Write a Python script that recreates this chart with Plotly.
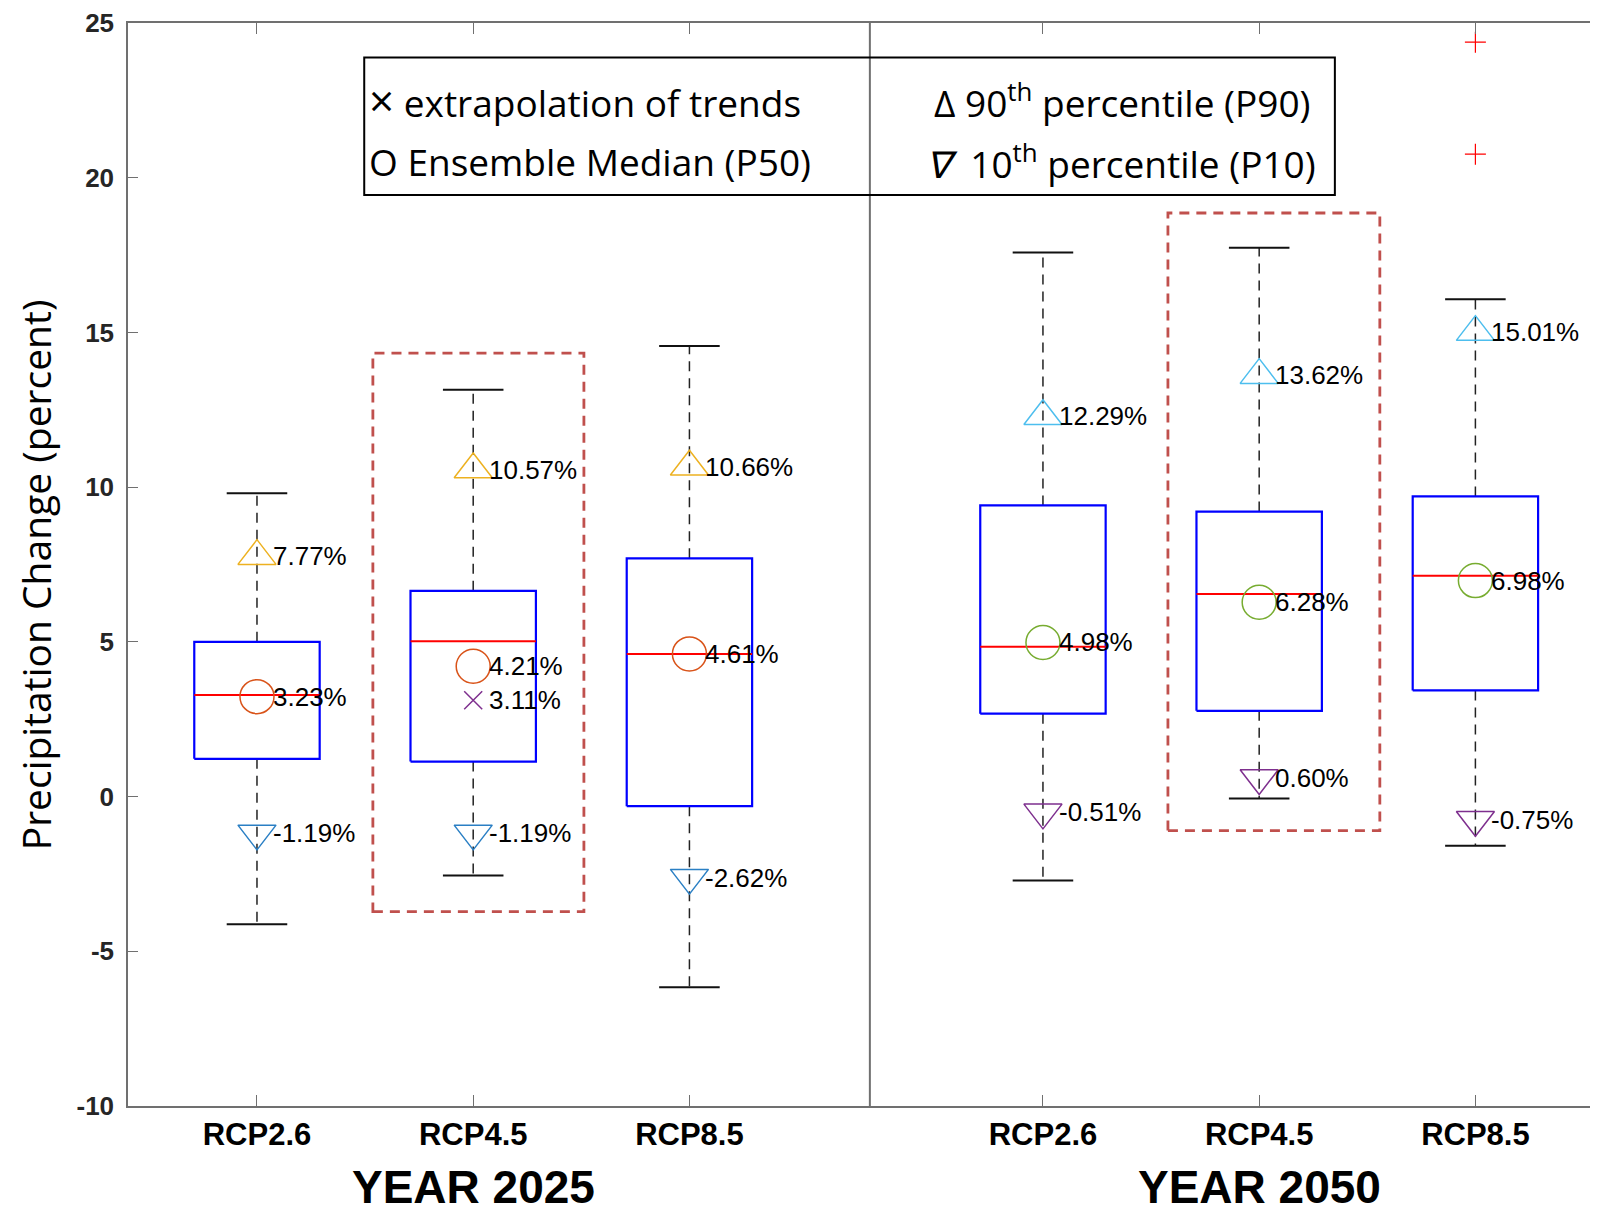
import plotly.graph_objects as go

# ---------------- data ----------------
scenarios = ["RCP2.6", "RCP4.5", "RCP8.5"]
years = ["YEAR 2025", "YEAR 2050"]

upper_whisker = [9.80, 13.15, 14.56, 17.58, 17.74, 16.07]
q3 = [5.00, 6.65, 7.70, 9.41, 9.21, 9.70]
box_median = [3.28, 5.02, 4.61, 4.84, 6.55, 7.14]
q1 = [1.22, 1.13, -0.31, 2.68, 2.77, 3.43]
lower_whisker = [-4.13, -2.55, -6.16, -2.71, -0.06, -1.59]

p90 = [7.77, 10.57, 10.66, 12.29, 13.62, 15.01]
p50 = [3.23, 4.21, 4.61, 4.98, 6.28, 6.98]
p10 = [-1.19, -1.19, -2.62, -0.51, 0.60, -0.75]
trend = [None, 3.11, None, None, None, None]

outlier_box = [5, 5]
outlier_val = [24.38, 20.76]

y_ticks = [-10, -5, 0, 5, 10, 15, 20, 25]
y_ticktext = ["-10", "-5", "0", "5", "10", "15", "20", "25"]

# ---------------- layout helpers ----------------
GROUP_GAP = 0.635
pos = [g * (3 + GROUP_GAP) + i + 1 for g in range(len(years)) for i in range(len(scenarios))]
HW = 0.29   # box half width
CW = 0.14   # cap half width

fig = go.Figure()

# whiskers (dashed)
wx, wy = [], []
for p, a, b, c, d in zip(pos, upper_whisker, q3, q1, lower_whisker):
    wx += [p, p, None, p, p, None]
    wy += [b, a, None, c, d, None]
fig.add_trace(go.Scatter(x=wx, y=wy, mode="lines", hoverinfo="skip",
                         line=dict(color="#222222", width=1.5, dash="10px,7px")))
# caps
cx, cy = [], []
for p, a, d in zip(pos, upper_whisker, lower_whisker):
    cx += [p - CW, p + CW, None, p - CW, p + CW, None]
    cy += [a, a, None, d, d, None]
fig.add_trace(go.Scatter(x=cx, y=cy, mode="lines", hoverinfo="skip",
                         line=dict(color="#111111", width=2)))
# boxes
bx, by = [], []
for p, lo, hi in zip(pos, q1, q3):
    bx += [p - HW, p + HW, p + HW, p - HW, p - HW, None]
    by += [lo, lo, hi, hi, lo, None]
fig.add_trace(go.Scatter(x=bx, y=by, mode="lines", hoverinfo="skip",
                         line=dict(color="#0000FF", width=2.2)))
# medians
mx, my = [], []
for p, m in zip(pos, box_median):
    mx += [p - HW, p + HW, None]
    my += [m, m, None]
fig.add_trace(go.Scatter(x=mx, y=my, mode="lines", hoverinfo="skip",
                         line=dict(color="#FF0000", width=2)))

# outliers
fig.add_trace(go.Scatter(x=[pos[i] for i in outlier_box], y=outlier_val, mode="markers",
                         marker=dict(symbol="cross-thin-open", size=15, color="#FF0000",
                                     line=dict(width=1.2, color="#FF0000"))))

c90 = ["#EDB120"] * 3 + ["#4DBEEE"] * 3
c50 = ["#D95319"] * 3 + ["#77AC30"] * 3
c10 = ["#2A7FC4"] * 3 + ["#7E2F8E"] * 3

fig.add_trace(go.Scatter(x=pos, y=p90, mode="markers",
                         marker=dict(symbol="triangle-up-open", size=33, color=c90,
                                     line=dict(width=1.5))))
fig.add_trace(go.Scatter(x=pos, y=p50, mode="markers",
                         marker=dict(symbol="circle-open", size=34, color=c50,
                                     line=dict(width=1.5))))
fig.add_trace(go.Scatter(x=pos, y=p10, mode="markers",
                         marker=dict(symbol="triangle-down-open", size=33, color=c10,
                                     line=dict(width=1.5))))
tx = [p for p, t in zip(pos, trend) if t is not None]
ty = [t for t in trend if t is not None]
fig.add_trace(go.Scatter(x=tx, y=ty, mode="markers",
                         marker=dict(symbol="x-thin-open", size=18, color="#7E2F8E",
                                     line=dict(width=1.5, color="#7E2F8E"))))

annotations = []
label_font = dict(family="Liberation Sans, Arial, sans-serif", size=26, color="#000000")
for series in (p90, p50, p10, trend):
    for p, v in zip(pos, series):
        if v is None:
            continue
        annotations.append(dict(x=p, y=v, xref="x", yref="y", text=f"{v:.2f}%",
                                showarrow=False, xanchor="left", yanchor="middle",
                                xshift=14, font=label_font))

# year labels
for g, name in enumerate(years):
    annotations.append(dict(x=pos[g * 3 + 1], y=0, xref="x", yref="paper", text=f"<b>{name}</b>",
                            showarrow=False, xanchor="center", yanchor="middle", yshift=-81,
                            font=dict(family="Liberation Sans, Arial, sans-serif",
                                      size=46, color="#000000")))
# y-axis title
annotations.append(dict(x=0, y=0.49, xref="paper", yref="paper",
                        text="Precipitation Change (percent)", textangle=-90,
                        showarrow=False, xanchor="center", yanchor="middle", xshift=-93,
                        font=dict(family="Open Sans, sans-serif", size=39, color="#000000")))

# legend box texts
leg_font = dict(family="Open Sans, sans-serif", size=37, color="#000000")
annotations += [
    dict(x=0.1626, y=0.9286, xref="paper", yref="paper",
         text="<span style='font-size:44px'>×</span> extrapolation of trends",
         showarrow=False, xanchor="left", yanchor="middle", font=leg_font),
    dict(x=0.1626, y=0.8724, xref="paper", yref="paper", text="O Ensemble Median (P50)",
         showarrow=False, xanchor="left", yanchor="middle", font=leg_font),
    dict(x=0.8057, y=0.9286, xref="paper", yref="paper", text="Δ 90<sup>th</sup> percentile (P90)",
         showarrow=False, xanchor="right", yanchor="middle", font=leg_font),
    dict(x=0.8092, y=0.8724, xref="paper", yref="paper", text="<i>∇</i>  10<sup>th</sup> percentile (P10)",
         showarrow=False, xanchor="right", yanchor="middle", font=leg_font),
]

# highlight boxes around RCP4.5 groups
hl_left = [0.464, 0.422]
hl_right = [0.512, 0.558]
hl_low = [-3.72, -1.10]
hl_high = [14.33, 18.86]
shapes = []
for g in range(len(years)):
    p = pos[g * 3 + 1]
    shapes.append(dict(type="rect", xref="x", yref="y", x0=p - hl_left[g], x1=p + hl_right[g],
                       y0=hl_low[g], y1=hl_high[g],
                       line=dict(color="#C0504D", width=2.8, dash="10px,7px")))
# separator between years
sep_x = (pos[2] + pos[3]) / 2 + 0.017
shapes.append(dict(type="line", xref="x", yref="paper", x0=sep_x, x1=sep_x, y0=0, y1=1,
                   line=dict(color="#707070", width=2)))
# legend frame
shapes.append(dict(type="rect", xref="paper", yref="paper", x0=0.1607, x1=0.821, y0=0.8411, y1=0.9681,
                   line=dict(color="#000000", width=2)))

# page body has an 8px margin: figure sized/offset to land the plot where the reference has it
fig.update_layout(
    width=1590, height=1207,
    margin=dict(l=120, r=0, t=9, b=109),
    plot_bgcolor="white", paper_bgcolor="white",
    showlegend=False,
    shapes=shapes, annotations=annotations,
    xaxis=dict(range=[0.4035, 7.202], tickvals=pos, ticktext=scenarios * 2,
               ticks="inside", ticklen=11, tickwidth=1, tickcolor="#707070",
               showline=True, linecolor="#707070", linewidth=1.5, mirror="ticks",
               showgrid=False, zeroline=False,
               tickfont=dict(family="Liberation Sans, Arial, sans-serif",
                             size=31, color="#000000", weight="bold")),
    yaxis=dict(range=[-10, 25], tickvals=y_ticks, ticktext=y_ticktext,
               ticks="inside", ticklen=10, tickwidth=1, tickcolor="#707070",
               showline=True, linecolor="#707070", linewidth=1.5, mirror=False,
               showgrid=False, zeroline=False, ticklabelstandoff=7,
               ticklabeloverflow="allow",
               tickfont=dict(family="Liberation Sans, Arial, sans-serif", size=26,
                             color="#262626", weight="bold")),
)

fig.write_html("out.html")
